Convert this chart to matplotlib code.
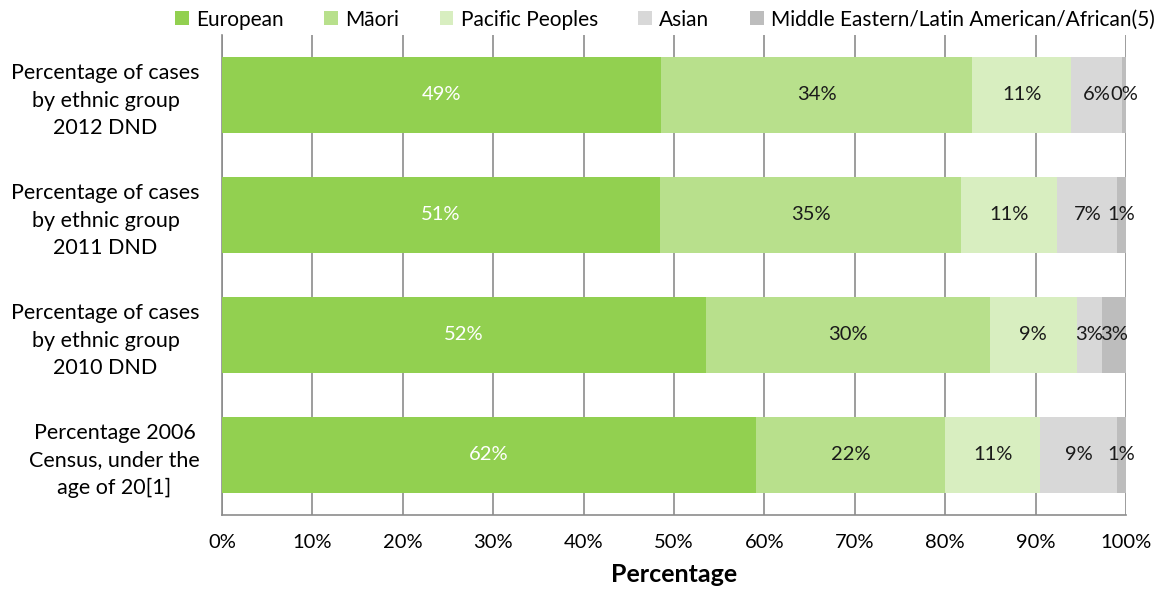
import matplotlib
matplotlib.use("Agg")
import matplotlib.pyplot as plt
import numpy as np

categories = [
    "Percentage of cases\nby ethnic group\n2012 DND",
    "Percentage of cases\nby ethnic group\n2011 DND",
    "Percentage of cases\nby ethnic group\n2010 DND",
    "Percentage 2006\nCensus, under the\nage of 20[1]",
]
series = ["European", "Māori", "Pacific Peoples", "Asian",
          "Middle Eastern/Latin American/African(5)"]
# raw values per category (rows) and series (cols); bars are 100%-stacked
values = [
    [48.6, 34.4, 10.9, 5.7, 0.4],
    [51.0, 35.0, 11.2, 7.0, 1.0],
    [51.9, 30.4, 9.3, 2.7, 2.6],
    [62.0, 22.0, 11.0, 9.0, 1.0],
]
labels = [
    ["49%", "34%", "11%", "6%", "0%"],
    ["51%", "35%", "11%", "7%", "1%"],
    ["52%", "30%", "9%", "3%", "3%"],
    ["62%", "22%", "11%", "9%", "1%"],
]
colors = ["#92D050", "#B8E08C", "#D8EEC0", "#D8D8D8", "#BDBDBD"]
label_colors = ["white", "#1a1a1a", "#1a1a1a", "#1a1a1a", "#1a1a1a"]
xticks = [0, 10, 20, 30, 40, 50, 60, 70, 80, 90, 100]

plt.rcParams['font.family'] = ['Lato', 'DejaVu Sans']

fig = plt.figure(figsize=(11.65, 5.99), dpi=100)
ax = fig.add_axes([222/1165, 1-515/599, (1126-222)/1165, 480/599])

vals = np.array(values, dtype=float)
pct = vals / vals.sum(axis=1, keepdims=True) * 100
ypos = np.arange(len(categories))
left = np.zeros(len(categories))
handles = []
for j, s in enumerate(series):
    h = ax.barh(ypos, pct[:, j], left=left, height=0.64, color=colors[j],
                label=s, zorder=3, linewidth=0)
    handles.append(h)
    for i in range(len(categories)):
        cx = left[i] + pct[i, j] / 2
        ax.text(cx, ypos[i], labels[i][j], ha='center', va='center',
                fontsize=14.5, color=label_colors[j], zorder=4)
    left += pct[:, j]

ax.set_xlim(0, 100)
ax.set_ylim(len(categories) - 0.5, -0.5)
ax.set_yticks(ypos)
ax.set_yticklabels(categories, fontsize=15.5, multialignment='center',
                   linespacing=1.45)
ax.tick_params(axis='y', length=0, pad=16)
ax.set_xticks(xticks)
ax.set_xticklabels([f"{t}%" for t in xticks], fontsize=14.5)
ax.tick_params(axis='x', length=0, pad=14)
ax.grid(axis='x', color='#8C8C8C', linewidth=1.2, zorder=1)
for sp in ['top', 'right']:
    ax.spines[sp].set_visible(False)
ax.spines['left'].set_color('#8C8C8C')
ax.spines['bottom'].set_color('#8C8C8C')
ax.spines['left'].set_linewidth(1.2)
ax.spines['bottom'].set_linewidth(1.2)
ax.set_xlabel("Percentage", fontsize=18, fontweight='bold', labelpad=8)

fig.legend(handles=handles, labels=series, loc='upper center',
           bbox_to_anchor=(665/1165, 1.015), ncol=5, frameon=False,
           fontsize=15, handlelength=0.65, handleheight=0.65,
           handletextpad=0.35, columnspacing=1.95)

fig.savefig("out.png", dpi=100)
